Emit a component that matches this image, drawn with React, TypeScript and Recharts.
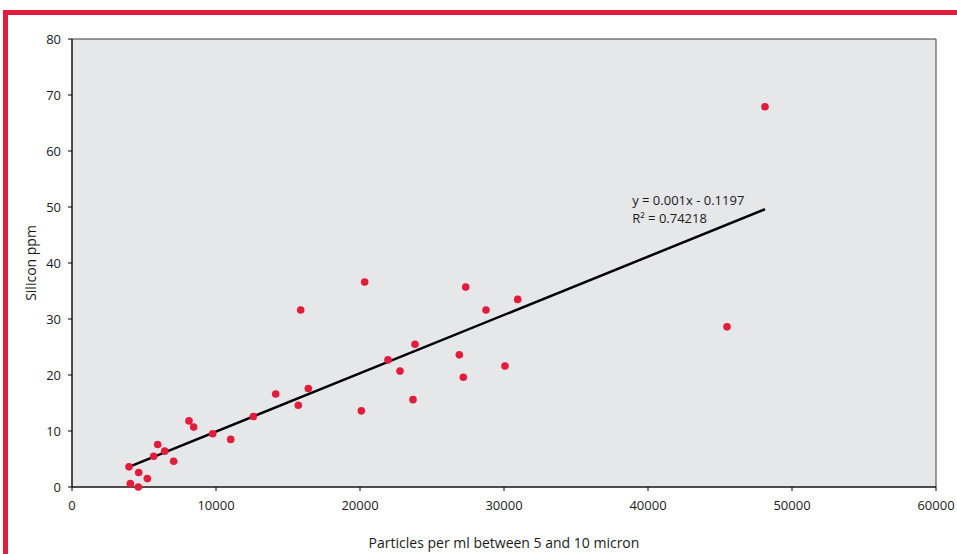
import { ScatterChart, Scatter, XAxis, YAxis, ReferenceArea, ReferenceLine, ReferenceDot } from 'recharts'

const particles = [
  48125, 45486, 30951, 28750, 27340, 27174, 26896, 30069, 23819, 23681, 22778,
  21944, 20326, 20090, 15882, 16410, 15715, 14146, 12590, 11021, 9769, 8449,
  8125, 6435, 5949, 5671, 7060, 3958, 4630, 5231, 4051, 4606,
]
const silicon = [
  67.9, 28.6, 33.5, 31.6, 35.7, 19.6, 23.6, 21.6, 25.5, 15.6, 20.7,
  22.7, 36.6, 13.6, 31.6, 17.6, 14.6, 16.6, 12.6, 8.5, 9.5, 10.7,
  11.8, 6.4, 7.6, 5.5, 4.6, 3.6, 2.6, 1.5, 0.6, 0,
]
const trendX = [3958, 48125]
const trendY = [3.6, 49.6]
const xTicks = [0, 10000, 20000, 30000, 40000, 50000, 60000]
const yTicks = [0, 10, 20, 30, 40, 50, 60, 70, 80]
const equation = 'y = 0.001x - 0.1197'
const rSquared = 'R² = 0.74218'

const RED = '#e31b3c'
const FONT = '"Open Sans", "Noto Sans", sans-serif'

const points = particles.map((x, i) => ({ x, y: silicon[i] }))

export default function App() {
  const tick = { fontSize: 13, fill: '#1a1a1a', fontFamily: FONT }
  return (
    <div style={{ position: 'absolute', left: 0, top: 0, width: 957, height: 554, background: '#fff', overflow: 'hidden' }}>
      <div style={{ position: 'absolute', left: 3, top: 10, width: 954, height: 5, background: RED }} />
      <div style={{ position: 'absolute', left: 3, top: 10, width: 5, height: 544, background: RED }} />
      <ScatterChart width={957} height={554} margin={{ top: 39, right: 21, bottom: 0, left: 0 }}>
        <ReferenceArea x1={0} x2={60000} y1={0} y2={80} fill="#e6e7e9" fillOpacity={1} stroke="#3a3a3a" strokeWidth={1} />
        <XAxis
          type="number"
          dataKey="x"
          domain={[0, 60000]}
          ticks={xTicks}
          height={67}
          tickSize={4}
          tickMargin={10}
          stroke="#000"
          tick={tick}
          label={{
            value: 'Particles per ml between 5 and 10 micron',
            position: 'insideBottom',
            offset: 6,
            style: { fontSize: 14, fill: '#1a1a1a', fontFamily: FONT },
          }}
        />
        <YAxis
          type="number"
          dataKey="y"
          domain={[0, 80]}
          ticks={yTicks}
          width={72}
          tickSize={4}
          tickMargin={7}
          stroke="#000"
          tick={tick}
          label={{
            value: 'Silicon ppm',
            content: () => (
              <text x={36} y={263} transform="rotate(-90 36 263)" textAnchor="middle" fontSize={14} fill="#1a1a1a" fontFamily={FONT}>
                Silicon ppm
              </text>
            ),
          }}
        />
        <ReferenceLine
          segment={[{ x: trendX[0], y: trendY[0] }, { x: trendX[1], y: trendY[1] }]}
          stroke="#000"
          strokeWidth={2.5}
        />
        <Scatter
          data={points}
          isAnimationActive={false}
          shape={(p: any) => <circle cx={p.cx} cy={p.cy} r={3.8} fill={RED} />}
        />
        <ReferenceDot
          x={38900}
          y={50.3}
          r={0}
          stroke="none"
          label={{
            content: (props: any) => {
              const vb = props.viewBox || {}
              const cx = (vb.x ?? 0) + (vb.width ?? 0) / 2
              const cy = (vb.y ?? 0) + (vb.height ?? 0) / 2
              return (
                <text x={cx} y={cy} fontSize={13} fill="#1a1a1a" fontFamily={FONT}>
                  <tspan x={cx} y={cy}>{equation}</tspan>
                  <tspan x={cx} y={cy + 17.5}>{rSquared}</tspan>
                </text>
              )
            },
          }}
        />
      </ScatterChart>
    </div>
  )
}
